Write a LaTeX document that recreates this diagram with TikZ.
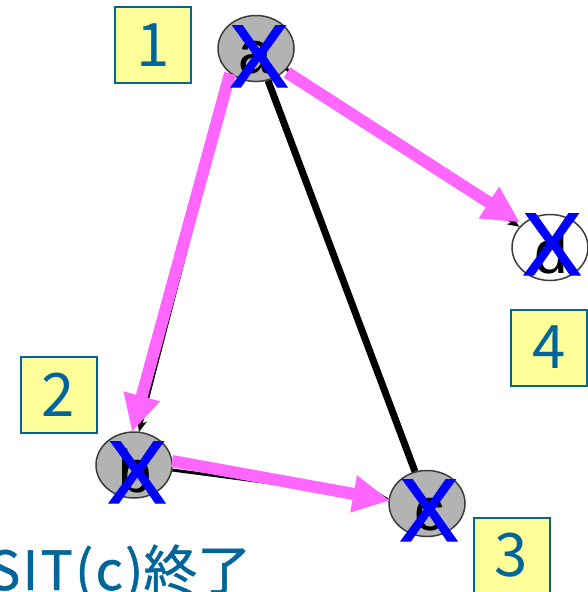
\documentclass[tikz,border=0pt]{standalone}
\usepackage{fontspec}
\setmainfont{Liberation Sans}
\newfontfamily\cjkfont{Noto Sans CJK JP}
\newfontfamily\xfont[FakeBold=1.6]{Liberation Sans}
\usetikzlibrary{arrows.meta,shapes.geometric,calc}
\definecolor{pinkarrow}{RGB}{255,102,255}
\definecolor{xblue}{RGB}{0,0,255}
\definecolor{teal}{RGB}{0,102,153}
\definecolor{nodegray}{RGB}{179,179,179}
\definecolor{borderdark}{RGB}{60,60,60}
\definecolor{labelyellow}{RGB}{255,255,153}
\tikzset{
  vert/.style={ellipse, draw=borderdark, line width=1.5pt, fill=nodegray, minimum width=76pt, minimum height=66pt, inner sep=0pt},
  vertwhite/.style={vert, fill=white},
  letter/.style={anchor=base, inner sep=0pt, font=\fontsize{60}{60}\selectfont},
  xmark/.style={anchor=base, inner sep=0pt, text=xblue, font=\xfont\fontsize{89}{89}\selectfont},
  numbox/.style={draw=teal, line width=2pt, fill=labelyellow, minimum width=76pt, minimum height=76pt, inner sep=0pt, text=teal, font=\cjkfont\fontsize{60}{60}\selectfont},
  blackedge/.style={draw=black, line width=3pt, -{Stealth[length=12pt,width=10pt]}},
  thickedge/.style={draw=black, line width=7pt},
  pinkedge/.style={draw=pinkarrow, line width=12pt, -{Triangle[length=37pt,width=35pt]}},
}
\begin{document}
\begin{tikzpicture}[x=1pt,y=-1pt]
\useasboundingbox (0,0) rectangle (588,592);
\clip (0,0) rectangle (588,592);
% label boxes
\node[numbox] (n1) at (153,45) {1};
\node[numbox] (n2) at (58.5,394.5) {2};
\node[numbox] (n3) at (511.5,555.5) {3};
\node[numbox] (n4) at (549,347.5) {4};
% vertices
\node[vert] (a) at (256,48.5) {};
\node[vert] (b) at (134,465) {};
\node[vert] (c) at (427,503.5) {};
\node[vertwhite] (d) at (550,247.5) {};
\node[letter] (la) at (255,73) {a};
\node[letter] (lb) at (135,492) {b};
\node[letter] (lc) at (429,530) {c};
\node[letter] (ld) at (551,273) {d};
% black edges
\draw[thickedge] (a) -- (c);
\draw[blackedge] ($(a)+(-24,25)$) -- ($(b)+(5,-33)$);
\draw[blackedge] (a) -- (d);
\draw[blackedge] (b) -- (c);
% pink traversal arrows
\draw[pinkedge] ($(a)+(-26,25)$) -- ($(b)+(-2,-33)$);
\draw[pinkedge] ($(a)+(31,24)$) -- ($(d)+(-30,-25)$);
\draw[pinkedge] ($(b)+(38,-4)$) -- ($(c)+(-37,-3)$);
% X marks
\node[xmark] (xa) at (259,87) {X};
\node[xmark] (xb) at (137,503) {X};
\node[xmark] (xc) at (429,541) {X};
\node[xmark] (xd) at (552,275) {X};
% caption
\node[anchor=base west, inner sep=0pt, text=teal, font=\cjkfont\fontsize{54}{54}\selectfont] (cap) at (-12,590) {{\addfontfeatures{LetterSpace=4,FakeBold=0.8}SIT(c)}{\addfontfeatures{FakeBold=0.8}終了}};
\end{tikzpicture}
\end{document}
